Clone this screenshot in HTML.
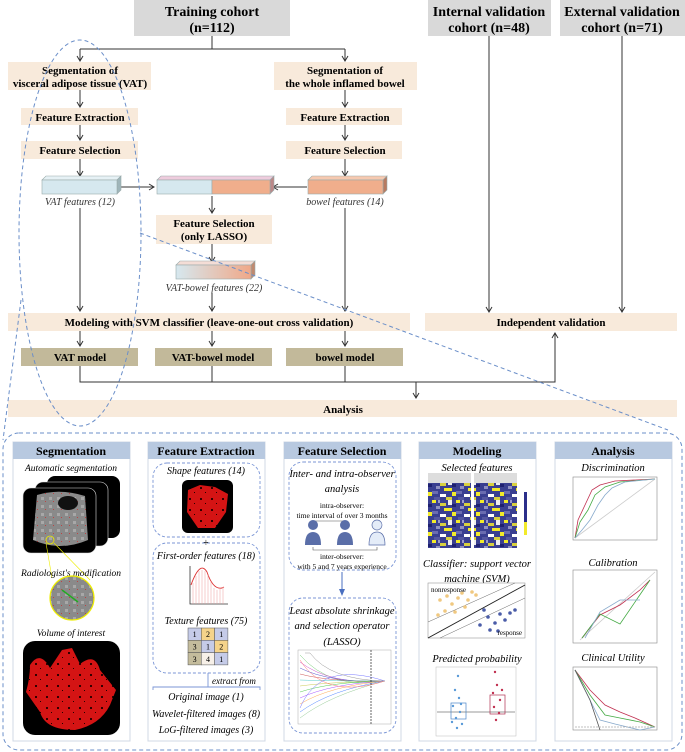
<!DOCTYPE html>
<html><head><meta charset="utf-8"><style>
html,body{margin:0;padding:0;background:#fff;}
svg{display:block;}
text{font-family:"Liberation Serif",serif;}
.b{font-weight:bold;}
.i{font-style:italic;}
</style></head><body>
<svg width="685" height="752" viewBox="0 0 685 752" xmlns="http://www.w3.org/2000/svg">
<defs>
<marker id="ar" markerWidth="8" markerHeight="8" refX="6" refY="4" orient="auto" markerUnits="userSpaceOnUse"><path d="M1,1 L6,4 L1,7" fill="none" stroke="#333" stroke-width="1"/></marker>
<marker id="arb" markerWidth="8" markerHeight="8" refX="6" refY="4" orient="auto" markerUnits="userSpaceOnUse"><path d="M0,1 L7,4 L0,7 z" fill="#4a6fc0"/></marker>
<linearGradient id="gr" x1="0" x2="1"><stop offset="0" stop-color="#d6e8ef"/><stop offset="1" stop-color="#f0a888"/></linearGradient>
<pattern id="hm" width="24" height="20" patternUnits="userSpaceOnUse">
<rect width="24" height="20" fill="#3a3f90"/>
<rect x="0" y="0" width="4" height="3" fill="#f2ea2a"/><rect x="8" y="3" width="6" height="3" fill="#d8d040"/><rect x="16" y="0" width="4" height="5" fill="#eeeeee"/>
<rect x="4" y="6" width="4" height="3" fill="#8e8fc0"/><rect x="12" y="8" width="8" height="3" fill="#f2ea2a"/><rect x="0" y="11" width="6" height="3" fill="#6a6cb0"/>
<rect x="20" y="12" width="4" height="4" fill="#f2ea2a"/><rect x="8" y="14" width="6" height="3" fill="#ffffff"/><rect x="2" y="17" width="6" height="3" fill="#5557a0"/><rect x="14" y="17" width="6" height="3" fill="#d8d040"/>
<rect x="20" y="4" width="4" height="3" fill="#1e2070"/><rect x="6" y="0" width="2" height="3" fill="#9a9acc"/>
</pattern>
<pattern id="ct" width="8" height="8" patternUnits="userSpaceOnUse"><rect width="8" height="8" fill="#8a8a8a"/><rect x="1" y="1" width="3" height="3" fill="#a8a8a8"/><rect x="5" y="5" width="1" height="1" fill="#b44"/></pattern>
<pattern id="rd" width="11" height="11" patternUnits="userSpaceOnUse"><rect width="11" height="11" fill="#d41414"/><rect x="2" y="3" width="2" height="2" fill="#300"/><rect x="7" y="8" width="1" height="1" fill="#200"/></pattern>
</defs>

<rect x="134" y="0" width="156" height="36" fill="#d9d9d9"/>
<text x="212" y="16" text-anchor="middle" class="b" font-size="14">Training cohort</text>
<text x="212" y="32" text-anchor="middle" class="b" font-size="14">(n=112)</text>
<rect x="428" y="0" width="123" height="36" fill="#d9d9d9"/>
<text x="489" y="16" text-anchor="middle" class="b" font-size="14">Internal validation</text>
<text x="489" y="32" text-anchor="middle" class="b" font-size="14">cohort (n=48)</text>
<rect x="560" y="0" width="125" height="36" fill="#d9d9d9"/>
<text x="622" y="16" text-anchor="middle" class="b" font-size="14">External validation</text>
<text x="622" y="32" text-anchor="middle" class="b" font-size="14">cohort (n=71)</text>

<g stroke="#333" stroke-width="1" fill="none">
<path d="M212,36 V49 M80,49 H345"/>
<path d="M80,49 V61" marker-end="url(#ar)"/><path d="M345,49 V61" marker-end="url(#ar)"/>
<path d="M489,36 V312" marker-end="url(#ar)"/><path d="M622,36 V312" marker-end="url(#ar)"/>
<path d="M80,90 V107" marker-end="url(#ar)"/><path d="M345,90 V107" marker-end="url(#ar)"/>
<path d="M80,125 V140" marker-end="url(#ar)"/><path d="M345,125 V140" marker-end="url(#ar)"/>
<path d="M80,159 V176" marker-end="url(#ar)"/><path d="M345,159 V176" marker-end="url(#ar)"/>
<path d="M120,187 H154" marker-end="url(#ar)"/><path d="M307,187 H273" marker-end="url(#ar)"/>
<path d="M212,196 V213" marker-end="url(#ar)"/>
<path d="M212,244 V262" marker-end="url(#ar)"/>
<path d="M212,293 V311" marker-end="url(#ar)"/>
<path d="M80,208 V311" marker-end="url(#ar)"/><path d="M345,208 V311" marker-end="url(#ar)"/>
<path d="M80,331 V346" marker-end="url(#ar)"/><path d="M212,331 V346" marker-end="url(#ar)"/><path d="M345,331 V346" marker-end="url(#ar)"/>
<path d="M80,366 V382 H555 V333" marker-end="url(#ar)"/>
<path d="M212,366 V382 M345,366 V382"/>
<path d="M416,382 V398" marker-end="url(#ar)"/>
</g>

<g fill="#f8eadb">
<rect x="8" y="62" width="143" height="28"/><rect x="274" y="62" width="143" height="28"/>
<rect x="21" y="108" width="117" height="17"/><rect x="286" y="108" width="116" height="17"/>
<rect x="21" y="141" width="117" height="18"/><rect x="286" y="141" width="116" height="18"/>
<rect x="156" y="215" width="116" height="29"/>
<rect x="8" y="313" width="402" height="18"/><rect x="425" y="313" width="252" height="18"/>
<rect x="8" y="400" width="669" height="17"/>
</g>
<g class="b" font-size="11" text-anchor="middle">
<text x="80" y="74">Segmentation of</text><text x="80" y="87">visceral adipose tissue (VAT)</text>
<text x="345" y="74">Segmentation of</text><text x="345" y="87">the whole inflamed bowel</text>
<text x="80" y="121">Feature Extraction</text><text x="345" y="121">Feature Extraction</text>
<text x="80" y="154">Feature Selection</text><text x="345" y="154">Feature Selection</text>
<text x="214" y="227">Feature Selection</text><text x="214" y="240">(only LASSO)</text>
<text x="209" y="326">Modeling with SVM classifier (leave-one-out cross validation)</text>
<text x="551" y="326">Independent validation</text>
<text x="343" y="413">Analysis</text>
</g>
<g fill="#c2b99a"><rect x="21" y="348" width="117" height="18"/><rect x="155" y="348" width="117" height="18"/><rect x="286" y="348" width="117" height="18"/></g>
<g class="b" font-size="11" text-anchor="middle"><text x="80" y="361">VAT model</text><text x="213" y="361">VAT-bowel model</text><text x="345" y="361">bowel model</text></g>

<g stroke="#9aa" stroke-width="0.6">
<path d="M42,180 L46,176 H121 L117,180 z" fill="#e6f1f5"/><path d="M117,180 L121,176 V190 L117,194 z" fill="#9fb5ba"/><rect x="42" y="180" width="75" height="14" fill="#d6e8ef"/>
<path d="M157,180 L161,176 H274 L270,180 z" fill="#ecd"/><path d="M270,180 L274,176 V190 L270,194 z" fill="#b88"/>
<rect x="157" y="180" width="55" height="14" fill="#d6e8ef"/><rect x="212" y="180" width="58" height="14" fill="#f0ae8c"/>
<path d="M308,180 L312,176 H387 L383,180 z" fill="#f6c9b0"/><path d="M383,180 L387,176 V190 L383,194 z" fill="#b87a60"/><rect x="308" y="180" width="75" height="14" fill="#f0ae8c"/>
<path d="M176,265 L180,261 H255 L251,265 z" fill="#f4ddd6"/><path d="M251,265 L255,261 V275 L251,279 z" fill="#c08a70"/><rect x="176" y="265" width="75" height="14" fill="url(#gr)"/>
</g>
<g class="i" font-size="10" text-anchor="middle" fill="#333"><text x="80" y="205">VAT features (12)</text><text x="345" y="205">bowel features (14)</text><text x="214" y="291">VAT-bowel features (22)</text></g>

<g fill="none" stroke="#6b8fc9" stroke-width="1" stroke-dasharray="4,3">
<ellipse cx="80" cy="233" rx="61" ry="193"/>
<path d="M140,233 L668,430"/>
<path d="M21,300 L3,440"/>
<rect x="3" y="433" width="679" height="317" rx="16"/>
</g>

<g fill="#fff" stroke="#d0d8e4" stroke-width="1">
<rect x="13" y="442" width="117" height="299"/><rect x="148" y="442" width="117" height="299"/><rect x="284" y="442" width="117" height="299"/><rect x="419" y="442" width="117" height="299"/><rect x="555" y="442" width="117" height="299"/>
</g>
<g fill="#b8c9e0"><rect x="13" y="442" width="117" height="17"/><rect x="148" y="442" width="117" height="17"/><rect x="284" y="442" width="117" height="17"/><rect x="419" y="442" width="117" height="17"/><rect x="555" y="442" width="117" height="17"/></g>
<g class="b" font-size="12" text-anchor="middle"><text x="71" y="455">Segmentation</text><text x="206" y="455">Feature Extraction</text><text x="342" y="455">Feature Selection</text><text x="477" y="455">Modeling</text><text x="613" y="455">Analysis</text></g>

<text x="71" y="471" text-anchor="middle" class="i" font-size="9.5">Automatic segmentation</text>
<rect x="47" y="476" width="73" height="62" rx="8" fill="#000"/>
<rect x="35" y="482" width="73" height="64" rx="8" fill="#000" stroke="#ddd" stroke-width="0.6"/>
<rect x="23" y="488" width="73" height="65" rx="8" fill="#000" stroke="#ddd" stroke-width="0.6"/>
<path d="M37,495 Q60,488 85,496 L88,540 Q60,552 33,540 z" fill="url(#ct)"/>
<ellipse cx="68" cy="503" rx="10" ry="7" fill="#111"/>
<circle cx="50" cy="540" r="4" fill="none" stroke="#ee0" stroke-width="0.8"/>
<path d="M46,543 L52,578 M54,543 L90,580" stroke="#ee0" stroke-width="0.6"/>
<text x="71" y="576" text-anchor="middle" class="i" font-size="9.5">Radiologist's modification</text>
<circle cx="72" cy="598" r="22" fill="url(#ct)" stroke="#ee0" stroke-width="1.2"/>
<path d="M62,590 l16,12" stroke="#2a2" stroke-width="1.5"/>
<text x="71" y="636" text-anchor="middle" class="i" font-size="9.5">Volume of interest</text>
<rect x="23" y="641" width="97" height="94" rx="12" fill="#000"/>
<path d="M30,665 Q40,650 50,668 L62,650 L72,648 L80,664 Q95,652 100,670 L116,690 L110,705 Q100,725 75,730 Q45,730 40,712 L26,692 Q30,678 30,665 z" fill="url(#rd)"/>

<g fill="none" stroke="#7b96d6" stroke-width="0.9" stroke-dasharray="3,2">
<rect x="153" y="463" width="107" height="74" rx="14"/><rect x="153" y="543" width="107" height="130" rx="14"/>
<rect x="289" y="462" width="107" height="108" rx="14"/><rect x="289" y="598" width="107" height="135" rx="14"/>
</g>
<text x="206" y="474" text-anchor="middle" class="i" font-size="10">Shape features (14)</text>
<rect x="182" y="480" width="51" height="53" rx="6" fill="#000"/>
<path d="M188,490 L200,485 L215,487 L228,494 L226,512 L215,528 L198,528 L187,512 z" fill="url(#rd)"/>
<text x="206" y="546" text-anchor="middle" font-size="10">+</text>
<text x="206" y="559" text-anchor="middle" class="i" font-size="10">First-order features (18)</text>
<path d="M190,566 V604 H228" fill="none" stroke="#333" stroke-width="0.8"/>
<path d="M191,585 Q200,560 207,572 Q213,590 222,588 L224,587" fill="none" stroke="#d33" stroke-width="0.9"/>
<g stroke="#e99" stroke-width="0.5"><path d="M193,583V604M196,576V604M199,571V604M202,570V604M205,571V604M208,575V604M211,582V604M214,588V604M217,590V604M220,589V604M223,587V604"/></g>
<text x="206" y="624" text-anchor="middle" class="i" font-size="10">Texture features (75)</text>
<g stroke="#555" stroke-width="0.5">
<rect x="188" y="628" width="13.3" height="12.3" fill="#c5cbe8"/><rect x="201.3" y="628" width="13.3" height="12.3" fill="#f5d38a"/><rect x="214.6" y="628" width="13.3" height="12.3" fill="#c5cbe8"/>
<rect x="188" y="640.3" width="13.3" height="12.3" fill="#c4bc9c"/><rect x="201.3" y="640.3" width="13.3" height="12.3" fill="#c5cbe8"/><rect x="214.6" y="640.3" width="13.3" height="12.3" fill="#f5d38a"/>
<rect x="188" y="652.6" width="13.3" height="12.3" fill="#c4bc9c"/><rect x="201.3" y="652.6" width="13.3" height="12.3" fill="#f7f0e8"/><rect x="214.6" y="652.6" width="13.3" height="12.3" fill="#c5cbe8"/>
</g>
<g font-size="8" text-anchor="middle"><text x="194.6" y="637">1</text><text x="208" y="637">2</text><text x="221.3" y="637">1</text><text x="194.6" y="649.5">3</text><text x="208" y="649.5">1</text><text x="221.3" y="649.5">2</text><text x="194.6" y="662">3</text><text x="208" y="662">4</text><text x="221.3" y="662">1</text></g>
<path d="M208,673 V687 M153,690 V687 H260 V690" fill="none" stroke="#7b96d6" stroke-width="0.9"/>
<text x="212" y="684" class="i" font-size="9">extract from</text>
<g class="i" font-size="10" text-anchor="middle"><text x="206" y="700">Original image (1)</text><text x="206" y="717">Wavelet-filtered images (8)</text><text x="206" y="733">LoG-filtered images (3)</text></g>

<g class="i" font-size="10.5" text-anchor="middle"><text x="342" y="477">Inter- and intra-observer</text><text x="342" y="492">analysis</text>
<text x="342" y="614">Least absolute shrinkage</text><text x="342" y="629">and selection operator</text><text x="342" y="645">(LASSO)</text></g>
<g font-size="7.5" text-anchor="middle"><text x="342" y="508">intra-observer:</text><text x="342" y="518">time interval of over 3 months</text><text x="342" y="559">inter-observer:</text><text x="342" y="569">with 5 and 7 years experience</text></g>
<path d="M313,524 V521 H347 V524 M313,547 V550 H377 V547" fill="none" stroke="#555" stroke-width="0.6"/>
<g fill="#5a6ea8"><circle cx="313" cy="525" r="5"/><path d="M305,545 Q305,532 313,532 Q321,532 321,545 z"/><circle cx="345" cy="525" r="5"/><path d="M337,545 Q337,532 345,532 Q353,532 353,545 z"/></g>
<g fill="#e4ecf8" stroke="#5a6ea8" stroke-width="0.7"><circle cx="377" cy="525" r="5"/><path d="M369,545 Q369,532 377,532 Q385,532 385,545 z"/></g>
<path d="M342,572 V595" stroke="#4a6fc0" stroke-width="1" marker-end="url(#arb)"/>
<rect x="298" y="650" width="93" height="74" fill="#fff" stroke="#aaa" stroke-width="0.5"/>
<g fill="none" stroke-width="0.5">
<path d="M300,655 Q330,690 385,681" stroke="#7c7"/><path d="M300,662 Q330,685 385,681" stroke="#c5c"/><path d="M300,668 Q330,683 385,681" stroke="#55c"/>
<path d="M300,674 Q330,682 385,681" stroke="#c55"/><path d="M300,680 Q330,681 385,681" stroke="#5cc"/><path d="M300,686 Q330,682 385,681" stroke="#cc5"/>
<path d="M300,692 Q330,682 385,681" stroke="#5c5"/><path d="M300,698 Q330,684 385,681" stroke="#a5f"/><path d="M300,704 Q330,686 385,681" stroke="#fa5"/>
<path d="M300,712 Q330,690 385,681" stroke="#58f"/><path d="M300,718 Q330,695 385,681" stroke="#9c9"/><path d="M300,660 Q325,700 385,681" stroke="#f77"/>
<path d="M300,708 Q320,660 385,681" stroke="#77f"/><path d="M305,653 L310,653 Q330,680 385,681" stroke="#999"/>
</g>
<path d="M371,650 V724" stroke="#000" stroke-width="0.6" stroke-dasharray="2,1"/>

<g class="i" font-size="10.5" text-anchor="middle"><text x="477" y="471">Selected features</text><text x="477" y="567">Classifier: support vector</text><text x="477" y="582">machine (SVM)</text><text x="477" y="662">Predicted probability</text></g>
<rect x="428" y="473" width="43" height="10" fill="#ddd"/><rect x="474" y="473" width="43" height="10" fill="#ddd"/>
<rect x="428" y="483" width="43" height="65" fill="url(#hm)"/><rect x="474" y="483" width="43" height="65" fill="url(#hm)"/>
<rect x="524" y="492" width="3" height="43" fill="#2b2f8a"/><rect x="524" y="522" width="3" height="13" fill="#f2ea2a"/>
<rect x="428" y="583" width="97" height="55" fill="#fff" stroke="#999" stroke-width="0.6"/>
<path d="M428,638 L525,585 M428,622 L515,583 M440,638 L525,598" stroke="#666" stroke-width="0.5" fill="none"/>
<path d="M428,638 L525,585" stroke="#222" stroke-width="0.9"/>
<g fill="#f0c880"><circle cx="440" cy="600" r="1.8"/><circle cx="447" cy="596" r="1.8"/><circle cx="452" cy="604" r="1.8"/><circle cx="458" cy="598" r="1.8"/><circle cx="462" cy="593" r="1.8"/><circle cx="468" cy="600" r="1.8"/><circle cx="445" cy="611" r="1.8"/><circle cx="455" cy="612" r="1.8"/><circle cx="472" cy="592" r="1.8"/><circle cx="438" cy="615" r="1.8"/><circle cx="465" cy="607" r="1.8"/><circle cx="476" cy="595" r="1.8"/></g>
<g fill="#4a5ca8"><circle cx="480" cy="625" r="1.8"/><circle cx="488" cy="617" r="1.8"/><circle cx="495" cy="623" r="1.8"/><circle cx="500" cy="614" r="1.8"/><circle cx="505" cy="620" r="1.8"/><circle cx="510" cy="613" r="1.8"/><circle cx="490" cy="630" r="1.8"/><circle cx="498" cy="631" r="1.8"/><circle cx="515" cy="610" r="1.8"/><circle cx="484" cy="610" r="1.8"/></g>
<text x="431" y="592" font-size="7">nonresponse</text><text x="522" y="635" font-size="7" text-anchor="end">response</text>
<rect x="436" y="667" width="80" height="69" fill="#fff" stroke="#bbb" stroke-width="0.5"/>
<path d="M437,712 H515" stroke="#ccc" stroke-width="2"/>
<rect x="451" y="703" width="15" height="16" fill="none" stroke="#4a86c8" stroke-width="0.7"/>
<rect x="490" y="695" width="15" height="19" fill="none" stroke="#b03050" stroke-width="0.7"/>
<g fill="#5a9ad8"><circle cx="455" cy="690" r="1.2"/><circle cx="459" cy="698" r="1.2"/><circle cx="453" cy="706" r="1.2"/><circle cx="460" cy="712" r="1.2"/><circle cx="456" cy="718" r="1.2"/><circle cx="462" cy="724" r="1.2"/><circle cx="452" cy="722" r="1.2"/><circle cx="458" cy="676" r="1.2"/><circle cx="461" cy="704" r="1.2"/><circle cx="457" cy="728" r="1.2"/></g>
<g fill="#c03050"><circle cx="495" cy="672" r="1.2"/><circle cx="497" cy="685" r="1.2"/><circle cx="493" cy="693" r="1.2"/><circle cx="500" cy="700" r="1.2"/><circle cx="494" cy="707" r="1.2"/><circle cx="499" cy="713" r="1.2"/><circle cx="496" cy="720" r="1.2"/><circle cx="502" cy="690" r="1.2"/></g>

<g class="i" font-size="10.5" text-anchor="middle"><text x="613" y="471">Discrimination</text><text x="613" y="566">Calibration</text><text x="613" y="661">Clinical Utility</text></g>
<g fill="#fff" stroke="#888" stroke-width="0.6"><rect x="573" y="477" width="84" height="63"/><rect x="573" y="570" width="84" height="73"/><rect x="573" y="667" width="84" height="63"/></g>
<g fill="none" stroke-width="0.8">
<path d="M575,538 L655,479" stroke="#ccc"/>
<path d="M575,538 L578,520 L585,505 L592,490 L600,485 L615,481 L655,479" stroke="#c03050"/>
<path d="M575,538 L580,522 L588,510 L595,495 L605,487 L620,482 L655,479" stroke="#4a4"/>
<path d="M575,538 L582,530 L590,520 L598,505 L605,495 L612,488 L625,482 L655,479" stroke="#8ac"/>
<path d="M580,640 L655,572" stroke="#ccc"/>
<path d="M582,638 L600,615 L620,605 L640,590 L650,580" stroke="#c03050"/>
<path d="M582,638 L600,614 L620,624 L650,580" stroke="#4a4"/>
<path d="M585,638 L600,612 L620,600 L640,600" stroke="#8ac"/>
<path d="M575,670 L590,690 L605,705 L620,712 L635,718 L655,727" stroke="#c03050"/>
<path d="M575,670 L590,695 L605,715 L620,718 L640,722 L655,727" stroke="#4a4"/>
<path d="M575,670 L590,700 L600,720 L615,724 L640,730 L655,727" stroke="#8ac"/>
<path d="M575,670 L590,700 L600,730" stroke="#555"/>
<path d="M575,727 H655" stroke="#aaa" stroke-dasharray="2,1"/>
</g>
</svg>
</body></html>
